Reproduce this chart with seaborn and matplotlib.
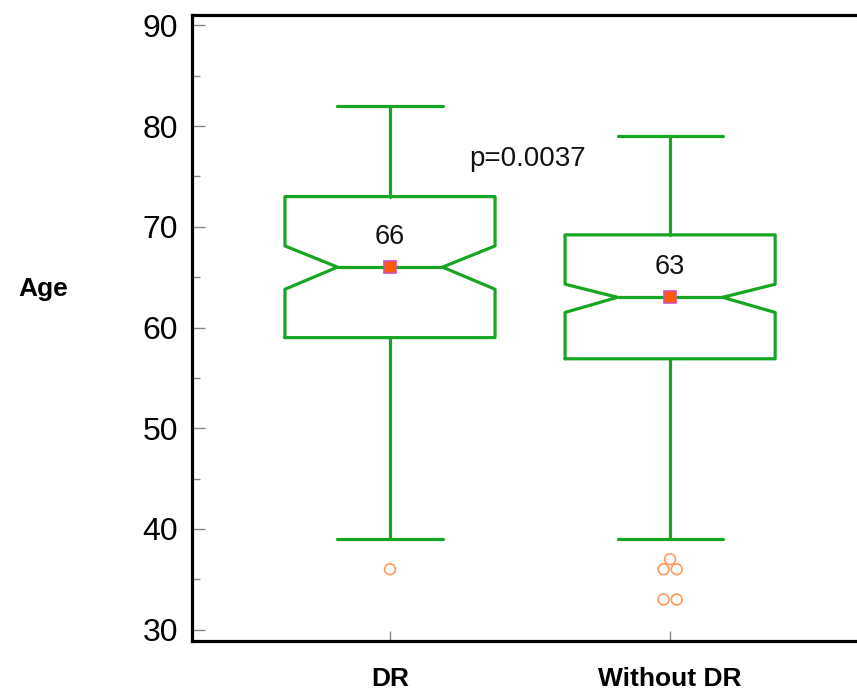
import numpy as np
import pandas as pd
import seaborn as sns
import matplotlib.pyplot as plt
from matplotlib.ticker import MultipleLocator

# values
groups = ['DR', 'Without DR']
medians = [66, 63]
q1 = [59, 56.9]
q3 = [73, 69.2]
whis_lo = [39, 39]
whis_hi = [82, 79]
notch_lo = [63.8, 61.5]
notch_hi = [68.1, 64.3]
outliers_dr = [36]
outliers_wo = [37, 36, 36, 33, 33]
p_text = 'p=0.0037'

sns.set_style('white')
plt.rcParams['font.family'] = ['Liberation Sans', 'DejaVu Sans']

green = '#17a622'
fig = plt.figure(figsize=(8.57, 6.95), dpi=100)
ax = fig.add_axes([0.224, 0.078, 0.789, 0.9])

# outliers, spread side by side like in the source chart
df_out = pd.DataFrame({
    'group': ['DR'] * len(outliers_dr) + ['Without DR'] * len(outliers_wo),
    'age': outliers_dr + outliers_wo,
})
sns.swarmplot(data=df_out, x='group', y='age', order=groups, ax=ax,
              size=7.8, marker='o', facecolor='none',
              edgecolor='#ff9a5c', linewidth=1.2, zorder=3)

ax.set_xlim(-0.707, 1.707)
ax.set_ylim(28.9, 91)

# let seaborn lay out the swarm once, then centre each row on its category
fig.canvas.draw()
for coll in list(ax.collections):
    off = np.array(coll.get_offsets())
    if len(off) == 0:
        continue
    if 'draw' in coll.__dict__:
        del coll.draw
    for yv in np.unique(off[:, 1]):
        sel = off[:, 1] == yv
        m = off[sel, 0].mean()
        off[sel, 0] -= m - round(m)
    coll.set_offsets(off)

stats = []
for i, g in enumerate(groups):
    stats.append(dict(label=g, med=medians[i], q1=q1[i], q3=q3[i],
                      whislo=whis_lo[i], whishi=whis_hi[i],
                      cilo=notch_lo[i], cihi=notch_hi[i],
                      mean=medians[i], fliers=[]))

lp = dict(color=green, linewidth=2.3)
ax.bxp(stats, positions=[0, 1], widths=0.75, capwidths=0.375,
       shownotches=True, showmeans=True, showfliers=False,
       manage_ticks=False,
       boxprops=lp, whiskerprops=lp, capprops=lp, medianprops=lp,
       meanprops=dict(marker='s', markersize=8.5, markerfacecolor='#ff5a00',
                      markeredgecolor='#d64fb0', markeredgewidth=1.2))

for i, m in enumerate(medians):
    ax.text(i, m + 3.0, str(m), ha='center', va='center', fontsize=19.5,
            color='#111111')
ax.text(0.49, 76.7, p_text, ha='center', va='center', fontsize=20,
        color='#111111')

ax.set_xlim(-0.707, 1.707)
ax.set_ylim(28.9, 91)
ax.set_xticks([0, 1], groups)
ax.yaxis.set_major_locator(MultipleLocator(10))
ax.yaxis.set_minor_locator(MultipleLocator(5))
ax.tick_params(axis='y', which='major', direction='in', length=9, width=1,
               color='#888888', labelsize=23, labelcolor='black', pad=10,
               left=True)
ax.tick_params(axis='y', which='minor', direction='in', length=6, width=1,
               color='#888888', left=True)
ax.tick_params(axis='x', direction='in', length=7, width=1, color='#888888',
               labelsize=19, labelcolor='black', pad=19, bottom=True)
for lab in ax.get_xticklabels():
    lab.set_fontweight('bold')

for s in ['left', 'bottom', 'top']:
    ax.spines[s].set_linewidth(2.3)
    ax.spines[s].set_color('black')
ax.spines['right'].set_visible(False)

ax.set_xlabel('')
ax.set_ylabel('Age', rotation=0, fontsize=19, fontweight='bold',
              color='black', va='center', ha='center')
ax.yaxis.set_label_coords(-0.22, 0.562)

plt.savefig('out.png', dpi=100)
